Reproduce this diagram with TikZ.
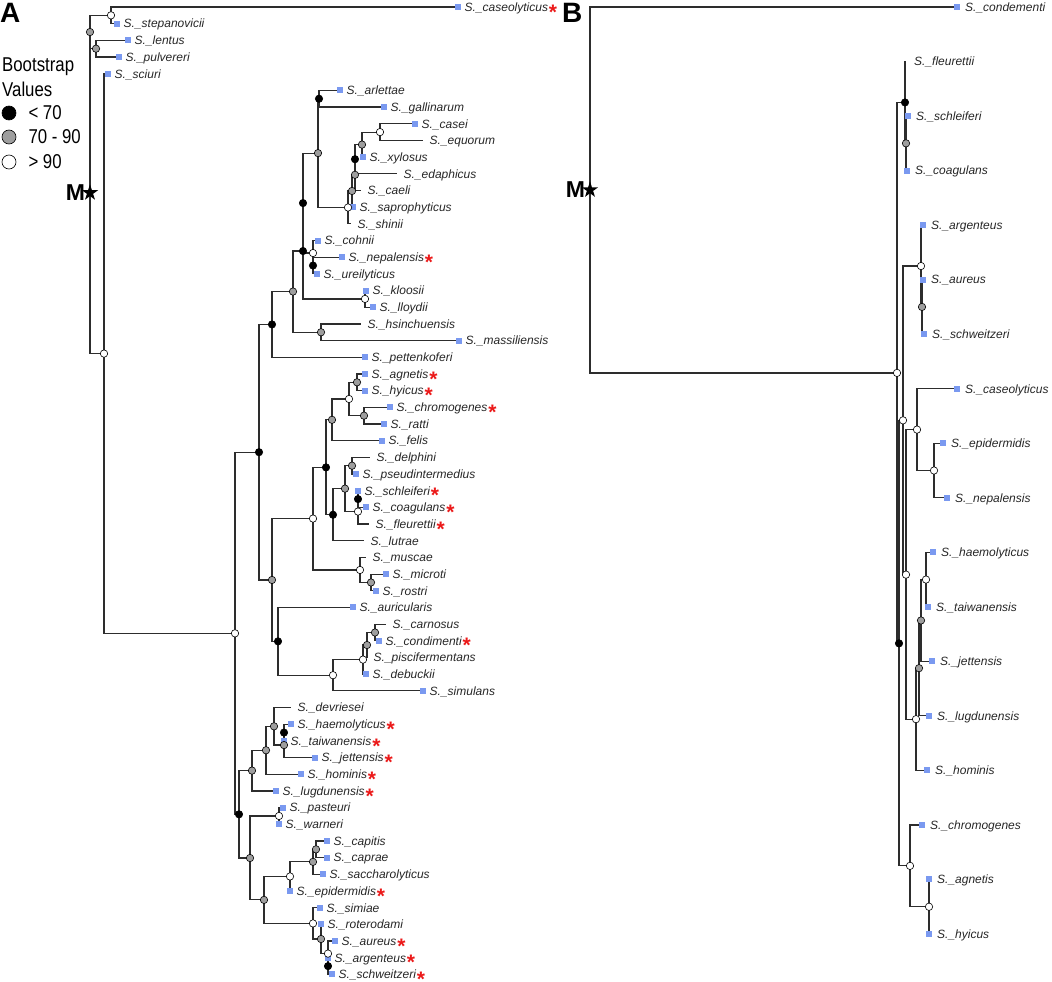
\documentclass[tikz,border=0pt]{standalone}
\usepackage{fontspec}
\setmainfont{Liberation Sans}
\usepackage{graphicx}
\usetikzlibrary{backgrounds, positioning, shapes.geometric}
\definecolor{tipblue}{RGB}{122,153,240}
\definecolor{midgray}{RGB}{158,158,158}
\definecolor{branchgray}{RGB}{45,45,45}
\definecolor{starred}{RGB}{235,25,25}
\newcommand{\bsfont}{\fontsize{20}{22}\selectfont}
\newcommand{\slim}[1]{\scalebox{0.84}[1]{#1}}

\tikzset{
  branch/.style={draw=branchgray, line width=1.2pt},
  lo/.style={circle, draw=black, fill=black, minimum size=7.4pt, inner sep=0pt, line width=0.6pt},
  mid/.style={lo, fill=midgray},
  hi/.style={lo, fill=white},
  sq/.style={rectangle, fill=tipblue, minimum size=6pt, inner sep=0pt},
  bare/.style={coordinate},
  taxon/.style={font=\fontsize{12}{14}\selectfont\itshape, text=black!85, inner sep=0pt, anchor=base west},
  redstar/.style={font=\fontsize{21}{21}\selectfont\bfseries, text=starred, inner sep=0pt, anchor=base west},
  rootstar/.style={star, star points=5, star point ratio=2.6, fill=black, minimum size=17pt, inner sep=0pt},
  bigM/.style={font=\fontsize{23}{24}\selectfont\bfseries, inner sep=0pt},
  panel/.style={font=\fontsize{28}{30}\selectfont\bfseries, inner sep=0pt, anchor=base west},
  legtext/.style={font=\bsfont, inner sep=0pt},
}

\begin{document}
\begin{tikzpicture}[x=1pt, y=-1pt]
  \useasboundingbox (0,0) rectangle (1052,982);

  \node[panel] at (0,23) {A};
  \node[panel] at (562,23) {B};

  % legend
  \node[legtext, anchor=base west] at (2,72) {\slim{Bootstrap}};
  \node[legtext, anchor=base west] at (2,96) {\slim{Values}};
  \node[lo, minimum size=14pt] (keylo) at (9,113) {};
  \node[mid, minimum size=14pt] (keymid) at (9,137) {};
  \node[hi, minimum size=14pt] (keyhi) at (9,162) {};
  \node[legtext, right=12pt of keylo] {\slim{< 70}};
  \node[legtext, right=12pt of keymid] {\slim{70 - 90}};
  \node[legtext, right=12pt of keyhi] {\slim{> 90}};

  % panel A
  \begin{scope}[yshift=-7pt, y=-16.68pt]
    \foreach \nm/\x/\k/\st in {caseolyticus/458/0/sq, stepanovicii/117/1/sq, lentus/128/2/sq,
      pulvereri/119/3/sq, sciuri/108/4/sq, arlettae/340/5/sq, gallinarum/384/6/sq, casei/415/7/sq,
      equorum/423/8/bare, xylosus/363/9/sq, edaphicus/397/10/bare, caeli/361/11/bare,
      saprophyticus/353/12/sq, shinii/351/13/bare, cohnii/318/14/sq, nepalensis/342/15/sq,
      ureilyticus/317/16/sq, kloosii/366/17/sq, lloydii/373/18/sq, hsinchuensis/361/19/bare,
      massiliensis/459/20/sq, pettenkoferi/365/21/sq, agnetis/365/22/sq, hyicus/365/23/sq,
      chromogenes/390/24/sq, ratti/384/25/sq, felis/382/26/sq, delphini/370/27/bare,
      pseudintermedius/356/28/sq, schleiferi/358/29/sq, coagulans/366/30/sq, fleurettii/369/31/bare,
      lutrae/364/32/bare, muscae/366/33/bare, microti/386/34/sq, rostri/376/35/sq,
      auricularis/353/36/sq, carnosus/386/37/bare, condimenti/379/38/sq, piscifermentans/367/39/bare,
      debuckii/366/40/sq, simulans/423/41/sq, devriesei/291/42/bare, haemolyticus/291/43/sq,
      taiwanensis/284/44/sq, jettensis/315/45/sq, hominis/301/46/sq, lugdunensis/276/47/sq,
      pasteuri/283/48/sq, warneri/279/49/sq, capitis/327/50/sq, caprae/327/51/sq,
      saccharolyticus/323/52/sq, epidermidis/290/53/sq, simiae/320/54/sq, roterodami/321/55/sq,
      aureus/335/56/sq, argenteus/328/57/sq, schweitzeri/332/58/sq}{
      \node[\st] (A\nm) at (\x,\k) {};
      \node[taxon] (lA\nm) at ([xshift=6.5pt, yshift=-4.3pt]A\nm.center) {S.\_\nm};
    }
    \foreach \nm in {caseolyticus, nepalensis, agnetis, hyicus, chromogenes, schleiferi, coagulans,
      fleurettii, condimenti, haemolyticus, taiwanensis, jettensis, hominis, lugdunensis,
      epidermidis, aureus, argenteus, schweitzeri}
      \node[redstar] at ([xshift=0.5pt, yshift=-7.8pt]lA\nm.base east) {\smash{*}};

    \foreach \nm/\x/\k/\st in {a1/111/0.5/hi, a2/96/2.5/mid, a3/90/1.5/mid, a4/104/20.78/hi,
      a5/235/37.55/hi, a6/259/26.69/lo, a7/272/19.03/lo, a8/293/17.06/mid, a9/303/14.63/lo,
      a10/303/11.755/lo, a11/318/8.76/mid, a12/319/5.5/lo, a13/348/12.02/hi, a14/352/11.03/mid,
      a15/355/10.06/mid, a16/355/9.125/lo, a17/362/8.25/mid, a18/380/7.5/hi, a19/313/14.75/hi,
      a20/313/15.5/lo, a21/365/17.5/hi, a22/321/19.5/mid,
      a23/272/34.35/mid, a24/313/30.67/hi, a25/326/27.6/lo, a26/332/24.75/mid, a27/349/23.5/hi,
      a28/357/22.5/mid, a29/364/24.5/mid, a30/333/30.44/lo, a31/345/28.875/mid, a32/352/27.5/mid,
      a33/358/30.25/hi, a34/358/29.5/lo, a35/360/33.75/hi, a36/371/34.5/mid, a37/278/38.03/lo,
      a38/333/40.06/hi, a39/363/39.125/hi, a40/367/38.25/mid, a41/375/37.5/mid,
      a42/239/48.4/lo, a43/252/45.78/mid, a44/266/44.56/mid, a45/274/43.125/mid, a46/284/44.25/mid,
      a47/284/43.5/lo, a48/250/51.02/mid, a49/279/48.5/hi, a50/264/53.53/mid, a51/290/52.125/hi,
      a52/313/51.25/mid, a53/316/50.5/mid, a54/313/54.94/hi, a55/321/55.875/mid,
      a56/328/56.75/hi, a57/328/57.5/lo}
      \node[\st] (\nm) at (\x,\k) {};
    \node[rootstar] (rootA) at (90,11.14) {};
    \node[bigM, left=0pt of rootA] {M};

    \begin{scope}[on background layer]
      \foreach \p/\c in {rootA/a3, rootA/a4, a3/a1, a3/a2, a1/Acaseolyticus, a1/Astepanovicii,
        a2/Alentus, a2/Apulvereri, a4/Asciuri, a4/a5, a5/a6, a5/a42, a6/a7, a6/a23, a7/a8,
        a7/Apettenkoferi, a8/a9, a8/a22, a9/a10, a9/a21, a10/a11, a10/a19, a11/a12, a11/a13,
        a12/Aarlettae, a12/Agallinarum, a13/a14, a13/Ashinii, a14/a15, a14/Asaprophyticus,
        a15/a16, a15/Acaeli, a16/a17, a16/Aedaphicus, a17/a18, a17/Axylosus, a18/Acasei,
        a18/Aequorum, a19/Acohnii, a19/a20, a20/Anepalensis, a20/Aureilyticus, a21/Akloosii,
        a21/Alloydii, a22/Ahsinchuensis, a22/Amassiliensis,
        a23/a24, a23/a37, a24/a25, a24/a35, a25/a26, a25/a30, a26/a27, a26/Afelis, a27/a28,
        a27/a29, a28/Aagnetis, a28/Ahyicus, a29/Achromogenes, a29/Aratti, a30/a31, a30/Alutrae,
        a31/a32, a31/a33, a32/Adelphini, a32/Apseudintermedius, a33/a34, a33/Afleurettii,
        a34/Aschleiferi, a34/Acoagulans, a35/Amuscae, a35/a36, a36/Amicroti, a36/Arostri,
        a37/Aauricularis, a37/a38, a38/a39, a38/Asimulans, a39/a40, a39/Adebuckii, a40/a41,
        a40/Apiscifermentans, a41/Acarnosus, a41/Acondimenti,
        a42/a43, a42/a48, a43/a44, a43/Alugdunensis, a44/a45, a44/Ahominis, a45/Adevriesei,
        a45/a46, a46/a47, a46/Ajettensis, a47/Ahaemolyticus, a47/Ataiwanensis, a48/a49, a48/a50,
        a49/Apasteuri, a49/Awarneri, a50/a51, a50/a54, a51/a52, a51/Aepidermidis, a52/a53,
        a52/Asaccharolyticus, a53/Acapitis, a53/Acaprae, a54/Asimiae, a54/a55, a55/Aroterodami,
        a55/a56, a56/Aaureus, a56/a57, a57/Aargenteus, a57/Aschweitzeri}
        \draw[branch] (\p.center) |- (\c.center);
    \end{scope}
  \end{scope}

  % panel B
  \begin{scope}[yshift=-7pt, y=-54.53pt]
    \foreach \nm/\x/\k/\st in {condementi/957/0/sq, fleurettii/906/1/bare, schleiferi/908/2/sq,
      coagulans/907/3/sq, argenteus/923/4/sq, aureus/923/5/sq, schweitzeri/924/6/sq,
      caseolyticus/957/7/sq, epidermidis/943/8/sq, nepalensis/947/9/sq, haemolyticus/933/10/sq,
      taiwanensis/928/11/sq, jettensis/932/12/sq, lugdunensis/929/13/sq, hominis/927/14/sq,
      chromogenes/922/15/sq, agnetis/929/16/sq, hyicus/929/17/sq}{
      \node[\st] (B\nm) at (\x,\k) {};
      \node[taxon] (lB\nm) at ([xshift=8pt, yshift=-4.3pt]B\nm.center) {S.\_\nm};
    }

    \foreach \nm/\x/\k/\st in {b1/905/1.75/lo, b2/906/2.5/mid, b3/921/4.75/hi, b4/922/5.5/mid,
      b5/917/7.75/hi, b6/934/8.5/hi, b7/926/10.5/hi, b8/921/11.25/mid, b9/919/12.125/mid,
      b10/916/13.06/hi, b11/906/10.41/hi, b12/903/7.58/hi, b13/929/16.5/hi, b14/910/15.75/hi,
      b15/899/11.67/lo, b16/897/6.71/hi}
      \node[\st] (\nm) at (\x,\k) {};
    \node[rootstar] (rootB) at (590,3.355) {};
    \node[bigM, left=0pt of rootB] {M};

    \begin{scope}[on background layer]
      \foreach \p/\c in {rootB/Bcondementi, rootB/b16, b16/b1, b16/b15, b1/Bfleurettii, b1/b2,
        b2/Bschleiferi, b2/Bcoagulans, b15/b12, b15/b14, b12/b3, b12/b11, b3/Bargenteus, b3/b4,
        b4/Baureus, b4/Bschweitzeri, b11/b5, b11/b10, b5/Bcaseolyticus, b5/b6, b6/Bepidermidis,
        b6/Bnepalensis, b10/b9, b10/Bhominis, b9/b8, b9/Blugdunensis, b8/b7, b8/Bjettensis,
        b7/Bhaemolyticus, b7/Btaiwanensis, b14/Bchromogenes, b14/b13, b13/Bagnetis, b13/Bhyicus}
        \draw[branch] (\p.center) |- (\c.center);
    \end{scope}
  \end{scope}
\end{tikzpicture}
\end{document}
